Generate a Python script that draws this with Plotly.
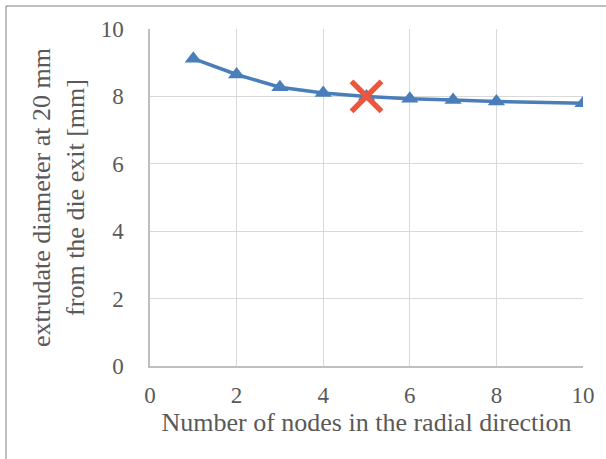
import plotly.graph_objects as go

# Mesh-refinement study: extrudate diameter vs. radial node count
nodes = [1, 2, 3, 4, 5, 6, 7, 8, 10]
diameter_mm = [9.12, 8.65, 8.27, 8.10, 8.00, 7.93, 7.89, 7.85, 7.80]

# Chosen resolution, highlighted with a cross
chosen_nodes = [5]
chosen_diameter = [8.00]

x_ticks = [0, 2, 4, 6, 8, 10]
y_ticks = [0, 2, 4, 6, 8, 10]

W, H = 606, 459
L, R, T, B = 150, 23, 29, 93

SERIF = "Liberation Serif"
text_color = "#595959"

fig = go.Figure()
fig.add_trace(go.Scatter(
    x=nodes, y=diameter_mm, mode="lines+markers",
    line=dict(color="#4A7EBB", width=3.5),
    marker=dict(symbol="triangle-up", size=15, color="#4A7EBB"),
    showlegend=False,
))
fig.add_trace(go.Scatter(
    x=chosen_nodes, y=chosen_diameter, mode="markers",
    marker=dict(symbol="x-thin-open", size=30, line=dict(color="#BE4B48", width=5.5)),
    showlegend=False,
))

for upd, ticks, title, tstand, lstand in (
    (fig.update_xaxes, x_ticks, "Number of nodes in the radial direction", 4, 8),
    (fig.update_yaxes, y_ticks, "extrudate diameter at 20 mm<br>from the die exit [mm]", 9, 20),
):
    upd(
        range=[0, 10], tickvals=ticks, ticks="",
        ticklabelstandoff=lstand,
        tickfont=dict(family=SERIF, size=23, color=text_color),
        title=dict(text=title, standoff=tstand,
                   font=dict(family=SERIF, size=26, color=text_color)),
        showgrid=True, gridcolor="#D9D9D9", gridwidth=1.3,
        showline=True, linecolor="#BFBFBF", linewidth=1.5,
        zeroline=False,
    )

# chart-area frame (only left and top edges fall inside the page)
pw, ph = W - L - R, H - T - B
fig.add_shape(
    type="rect", xref="paper", yref="paper",
    x0=(6 - L) / pw, x1=(W + 10 - L) / pw,
    y0=(H - (H + 10) - B) / ph, y1=(H - 6 - B) / ph,
    line=dict(color="#7F7F7F", width=1), fillcolor="rgba(0,0,0,0)", layer="above",
)

fig.update_layout(
    width=W, height=H,
    margin=dict(l=L, r=R, t=T, b=B, autoexpand=False),
    plot_bgcolor="white", paper_bgcolor="white",
    font=dict(family=SERIF, color=text_color, size=22),
)

fig.write_html("out.html")
